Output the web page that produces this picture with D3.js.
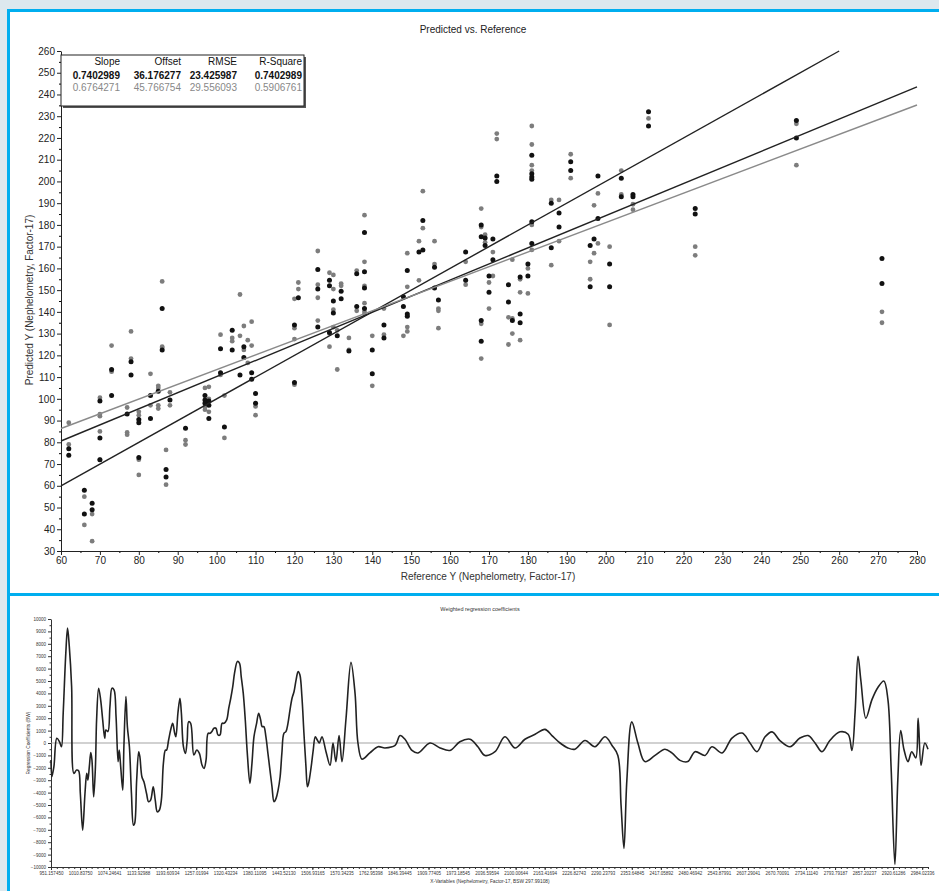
<!DOCTYPE html>
<html>
<head>
<meta charset="utf-8">
<script src="https://cdn.jsdelivr.net/npm/d3@7"></script>
<style>
  body { margin: 0; background: #dde8ee; }
  svg { display: block; font-family: "Liberation Sans", Arial, sans-serif; }
</style>
</head>
<body>
<div id="plot"></div>
<script>
// ---- top panel data: [reference, predicted] ----
const blackPoints = [
  [62,77],[62,74],[66,58],[66,47],[68,52],[68,49],[70,99],[70,82],[70,72],[73,101.5],[73,113.5],
  [77,93],[78,117],[78,111],[80,90.5],[80,89],[80,73],[83,101.5],[83,91],[85,103.5],[86,141.5],[86,122.5],
  [87,67.5],[87,64],[88,99.5],[92,86.5],[97,101.5],[97,99.5],[97,98],[98,91],[98,99],[98,97],
  [101,123],[101,112],[102,87],[104,131.5],[104,122.5],[106,111],[107,124],[107,119],[109,112],[109,109],
  [110,102.5],[110,98],[120,134],[120,107.5],[121,146.5],[126,159.5],[126,150.5],[126,133],
  [129,154.5],[129,152],[129,130.5],[130,145],[130,139.5],[131,129],[132,149.5],[132,146],[134,122],
  [136,157.5],[136,142.5],[138,176.5],[138,158.5],[138,151],[138,141.5],[140,122.5],[140,111.5],
  [143,134],[143,128],[148,142.5],[148,147],[149,159],[149,139],[149,138],[152,167.5],[153,182],[153,168.5],
  [156,160.5],[156,151],[157,145.5],[164,167.5],[164,154.5],[168,180],[168,174.5],[168,136],[168,126.5],
  [169,170.5],[169,174],[170,156.5],[170,149],[171,173.5],[171,164],[172,202.5],[172,200],
  [175,152.5],[175,144.5],[176,136],[178,156],[178,139],[178,135],[180,162],[180,156.5],
  [181,212],[181,203.5],[181,202],[181,201],[181,181.5],[181,171.5],[186,190],[186,169.5],
  [188,185.5],[188,179],[191,209],[191,205],[196,170.5],[196,151.5],[197,173.5],[198,202.5],[198,183],
  [201,162],[201,151.5],[204,201.5],[204,193],[207,194],[207,193],[211,232],[211,225.5],
  [223,187.5],[223,185],[249,228],[249,220],[271,164.5],[271,153]
];
const grayPoints = [
  [62,89],[62,79],[66,55],[66,42],[68,47],[68,34.5],[70,100.5],[70,93],[70,92],[70,85],[70,72],
  [73,124.5],[73,112.5],[77,96],[77,84.5],[77,83.5],[78,131],[78,118.5],[80,94],[80,92.5],[80,72],[80,65],
  [83,111.5],[83,97],[85,106],[85,105],[85,97],[85,95.5],[86,154],[86,124],[86,123.5],[87,76.5],[87,60.5],
  [88,103],[88,97],[92,81],[92,79],[97,105],[97,96.5],[97,95],[98,105.5],[98,100],[98,94],
  [101,129.5],[101,111],[102,101.5],[102,82],[104,128],[104,126.5],[106,148],[106,129],[107,133.5],[107,122.5],
  [108,127],[108,116.5],[109,135.5],[109,124.5],[110,96.5],[110,92.5],
  [120,146],[120,132.5],[120,127.5],[120,106.5],[121,153.5],[121,150.5],[126,168],[126,152.5],[126,146.5],[126,136],
  [129,158],[129,124],[129,130],[130,157],[130,150.5],[130,141],[130,133],[131,113.5],[131,131.5],
  [132,153],[132,152],[134,128],[134,122.5],[136,159],[136,140.5],
  [138,184.5],[138,163],[138,152],[138,144],[138,140],[138,139],[140,129],[140,106],[143,141.5],[143,129.5],
  [148,129],[149,167],[149,151.5],[149,133],[149,131],[152,172.5],[152,154.5],[153,195.5],[153,178.5],
  [156,172.5],[156,162],[157,141.5],[157,140.5],[157,132.5],[164,163],[164,152.5],
  [168,187.5],[168,179],[168,134.5],[168,118.5],[169,175.5],[169,172],[170,153.5],[170,141.5],
  [171,167.5],[171,156.5],[172,222],[172,219.5],[175,137.5],[175,125],[176,164],[176,130],[176,137],
  [178,155],[178,149],[178,127],[180,160],[180,148.5],
  [181,225.5],[181,217],[181,207.5],[181,205],[181,180],[181,168.5],[186,191.5],[186,161.5],
  [188,191.5],[188,172.5],[191,212.5],[191,201.5],[196,163],[196,155],[197,189],[197,167],
  [198,194.5],[198,171.5],[201,170],[201,134],[204,205],[204,194],[207,189.5],[207,187],[211,229],
  [223,170],[223,166],[249,226.5],[249,207.5],[271,140],[271,135]
];
const statHeaders = ["Slope", "Offset", "RMSE", "R-Square"];
const statBlack = ["0.7402989", "36.176277", "23.425987", "0.7402989"];
const statGray  = ["0.6764271", "45.766754", "29.556093", "0.5906761"];

// ---- bottom panel data ----
// [variable index, coefficient]
const coefPoints = [
  [0,-1370],[0.3,-2720],[1.0,-1910],[2.0,380],[2.9,110],[3.6,-300],[4.2,2400],[5.1,7250],[5.7,9270],
  [6.3,7790],[7.1,4550],[7.9,-2450],[8.8,-2180],[9.5,-2240],[10.1,-4070],[10.9,-7030],[11.7,-4070],
  [12.3,-2450],[12.7,-2990],[13.2,-1910],[13.7,-780],[14.1,-1370],[14.7,-4340],[15.3,-1910],[15.7,1860],
  [16.4,4420],[17.1,3480],[17.8,1860],[18.5,380],[18.9,1050],[19.6,920],[20.3,2940],[21.0,4420],
  [21.7,4290],[22.4,2130],[23.1,-1510],[23.5,-570],[24.0,-1910],[24.7,-3800],[25.1,-300],[25.8,3750],
  [26.3,1320],[27.0,-300],[27.7,-4070],[28.4,-6630],[28.8,-6500],[29.5,-2990],[30.2,-700],[30.6,-1100],
  [31.3,-2720],[32.0,-3130],[32.9,-4070],[33.6,-4740],[34.3,-4610],[35.2,-3530],[35.9,-4610],[36.6,-5550],
  [37.3,-5420],[38.0,-4610],[38.7,-1640],[39.4,-570],[39.8,-570],[40.5,240],[41.2,1050],[41.9,1590],
  [42.6,780],[43.0,510],[43.7,2400],[44.4,3610],[44.9,2400],[45.6,-300],[46.3,-840],[46.9,240],
  [47.4,1720],[48.1,1590],[49.2,-970],[50.2,-570],[51.1,-840],[52.0,-1780],[52.7,-2050],[53.4,-1370],
  [54.1,780],[54.8,780],[55.4,920],[56.1,1190],[56.8,1190],[57.5,650],[58.2,650],[58.9,1590],[59.6,1590],
  [60.5,1860],[61.2,2800],[61.9,3610],[62.6,4560],[63.2,5630],[64.2,6580],[64.9,6440],[65.5,5360],
  [66.2,4020],[66.9,1860],[67.6,-840],[68.5,-3260],[69.2,-1640],[69.9,510],[70.8,1590],[71.5,2400],
  [72.2,1860],[72.7,1320],[73.3,1320],[74.0,510],[74.7,-840],[75.4,-2180],[76.1,-3530],[76.8,-4740],
  [77.5,-4470],[78.2,-3800],[78.9,-2720],[79.5,-840],[80.2,780],[80.9,920],[81.6,1590],[82.3,2670],
  [83.0,3610],[83.7,4150],[84.4,5090],[85.1,5770],[85.7,5500],[86.4,3750],[87.1,780],[87.8,-1910],
  [88.3,-3530],[88.7,-3260],[89.6,-1910],[90.3,-570],[91.0,510],[91.7,240],[92.4,0],
  [93.3,500],[94.7,-700],[96.1,-1800],[97.1,0],[98.1,-1500],[99.2,600],[100.2,-1500],[101.6,2000],
  [103.3,6500],[104.7,4000],[105.7,0],[107.1,-1300],[109.8,-800],[112.6,-300],[115.0,-400],[118.5,-200],
  [120.2,600],[121.9,300],[124.3,-600],[126.4,-800],[130.5,0],[134.0,-400],[137.4,-600],[140.8,100],
  [144.3,300],[147.0,-300],[149.4,-1000],[152.9,-700],[156.3,500],[159.8,-400],[163.2,300],[166.7,700],
  [170.1,1100],[172.5,600],[175.3,0],[178.0,-400],[180.4,-500],[183.9,200],[187.3,-300],[190.8,500],
  [193.2,-200],[195.2,-1000],[196.3,-5000],[197.3,-8500],[198.3,-3000],[200.0,1700],[202.1,0],
  [204.5,-1500],[208.0,-1000],[211.4,-500],[213.8,-800],[216.6,-1400],[219.3,-1500],[221.8,-700],
  [225.2,-1000],[227.6,-300],[231.1,-800],[234.5,400],[238.0,800],[240.7,0],[243.1,-700],[245.9,500],
  [248.3,900],[251.0,200],[254.5,-300],[257.9,400],[260.7,600],[263.1,0],[265.5,-700],[268.2,200],
  [271.7,900],[274.5,700],[275.8,-600],[276.9,2500],[277.9,7000],[278.9,5000],[280.6,2000],[282.7,3500],
  [284.8,4500],[286.8,5000],[288.2,3500],[289.3,-2000],[290.6,-9800],[291.6,-3000],[292.6,1000],
  [293.7,-500],[295.1,-1500],[296.4,-700],[297.8,-1200],[298.6,2000],[299.6,-1800],[300.9,0],[302,-500]
];
const coefTickLabels = ["951.157450","1010.83750","1074.24641","1133.92988","1193.60934","1257.01994",
  "1320.43234","1380.11095","1443.52130","1506.93165","1570.34235","1762.95398","1846.39445","1909.77405",
  "1973.18545","2036.59594","2100.00644","2163.41694","2226.82743","2290.23793","2353.64845","2417.05892",
  "2480.46942","2543.87991","2607.29041","2670.70091","2734.11140","2793.79187","2857.20237","2920.61286",
  "2984.02336"];

window.addEventListener('load', main);

function main(){
  const W = 939, H = 891;
  const blue = '#00aeef';
  let svg = d3.select('#plot').append('svg').attr('width', W).attr('height', H);

  // frame
  svg.append('rect').attr('width', W).attr('height', H).attr('fill', '#dde8ee');
  svg.append('rect').attr('x', 10).attr('y', 12).attr('width', W - 10).attr('height', 581).attr('fill', '#fff');
  svg.append('rect').attr('x', 10).attr('y', 596).attr('width', W - 10).attr('height', H - 596).attr('fill', '#fff');
  svg.append('rect').attr('x', 7).attr('y', 9).attr('width', W - 7).attr('height', 3).attr('fill', blue);
  svg.append('rect').attr('x', 7).attr('y', 9).attr('width', 3).attr('height', H - 9).attr('fill', blue);
  svg.append('rect').attr('x', 7).attr('y', 593).attr('width', W - 7).attr('height', 3).attr('fill', blue);

  // ================= top: Predicted vs Reference =================
  let x = d3.scaleLinear().domain([60, 280]).range([61, 917]);
  let y = d3.scaleLinear().domain([30, 260]).range([551, 51]);
  let top = svg.append('g');

  // minor ticks
  top.append('g').attr('transform', 'translate(0,551)')
     .call(d3.axisBottom(x).tickValues(d3.range(65, 280, 10)).tickSize(2).tickFormat(''))
     .call(g => g.select('.domain').remove());
  top.append('g').attr('transform', 'translate(61,0)')
     .call(d3.axisLeft(y).tickValues(d3.range(35, 260, 10)).tickSize(2).tickFormat(''))
     .call(g => g.select('.domain').remove());

  let xAxis = top.append('g').attr('transform', 'translate(0,551)')
     .call(d3.axisBottom(x).tickValues(d3.range(60, 281, 10)).tickSize(4).tickSizeOuter(0).tickPadding(2));
  let yAxis = top.append('g').attr('transform', 'translate(61,0)')
     .call(d3.axisLeft(y).tickValues(d3.range(30, 261, 10)).tickSize(4).tickSizeOuter(0).tickPadding(2));
  [xAxis, yAxis].forEach(a => {
    a.selectAll('text').attr('font-size', 10).attr('fill', '#222').attr('font-family', null);
    a.selectAll('line,path').attr('stroke', '#222');
  });

  top.append('text').attr('x', 473).attr('y', 33).attr('text-anchor', 'middle')
     .attr('font-size', 10).attr('fill', '#222').text('Predicted vs. Reference');
  top.append('text').attr('x', 488).attr('y', 580).attr('text-anchor', 'middle')
     .attr('font-size', 10).attr('fill', '#333').text('Reference Y (Nephelometry, Factor-17)');
  top.append('text').attr('transform', 'translate(33,300) rotate(-90)').attr('text-anchor', 'middle')
     .attr('font-size', 10).attr('fill', '#333').text('Predicted Y (Nephelometry, Factor-17)');

  // points
  top.append('g').selectAll('circle').data(grayPoints).join('circle')
     .attr('cx', d => x(d[0])).attr('cy', d => y(d[1])).attr('r', 2.4).attr('fill', '#7d7d7d');
  top.append('g').selectAll('circle').data(blackPoints).join('circle')
     .attr('cx', d => x(d[0])).attr('cy', d => y(d[1])).attr('r', 2.5).attr('fill', '#111');

  // lines: target (slope 1), black fit, gray fit
  let fits = [
    {slope: 1, offset: 0, x1: 60, x2: 260, color: '#222'},
    {slope: +statBlack[0], offset: +statBlack[1], x1: 60, x2: 280, color: '#222'},
    {slope: +statGray[0], offset: +statGray[1], x1: 60, x2: 280, color: '#8a8a8a'}
  ];
  top.append('g').selectAll('line').data(fits).join('line')
     .attr('x1', d => x(d.x1)).attr('y1', d => y(d.slope * d.x1 + d.offset))
     .attr('x2', d => x(d.x2)).attr('y2', d => y(d.slope * d.x2 + d.offset))
     .attr('stroke', d => d.color).attr('stroke-width', 1.4);

  // stats box
  let box = top.append('g');
  box.append('rect').attr('x', 63).attr('y', 57).attr('width', 243).attr('height', 51).attr('fill', '#555');
  box.append('rect').attr('x', 61).attr('y', 55).attr('width', 243).attr('height', 51)
     .attr('fill', '#fff').attr('stroke', '#222').attr('stroke-width', 1);
  let colRight = [120, 181, 237, 302];
  let rows = [
    {vals: statHeaders, y: 65, fill: '#111', weight: 'normal'},
    {vals: statBlack, y: 79, fill: '#111', weight: 'bold'},
    {vals: statGray, y: 91, fill: '#888', weight: 'normal'}
  ];
  rows.forEach(r => {
    box.append('g').selectAll('text').data(r.vals).join('text')
       .attr('x', (d, i) => colRight[i]).attr('y', r.y).attr('text-anchor', 'end')
       .attr('font-size', 10).attr('font-weight', r.weight).attr('fill', r.fill).text(d => d);
  });

  // ================= bottom: Weighted regression coefficients =================
  let xc = d3.scaleLinear().domain([0, 302]).range([51, 928]);
  let yc = d3.scaleLinear().domain([-10000, 10000]).range([867, 619]);
  let bot = svg.append('g');

  bot.append('g').attr('transform', 'translate(0,867)')
     .call(d3.axisBottom(xc).tickValues(d3.range(0, 303, 2)).tickSize(2).tickFormat(''))
     .call(g => g.selectAll('line,path').attr('stroke', '#333'));
  let xcAxis = bot.append('g').attr('transform', 'translate(0,867)')
     .call(d3.axisBottom(xc).tickValues(d3.range(0, 301, 10)).tickSize(3).tickSizeOuter(0).tickPadding(2)
       .tickFormat((d, i) => coefTickLabels[i]));
  bot.append('g').attr('transform', 'translate(51,0)')
     .call(d3.axisLeft(yc).tickValues(d3.range(-9500, 10000, 1000)).tickSize(1.5).tickFormat(''))
     .call(g => g.select('.domain').remove())
     .call(g => g.selectAll('line').attr('stroke', '#333'));
  let ycAxis = bot.append('g').attr('transform', 'translate(51,0)')
     .call(d3.axisLeft(yc).tickValues(d3.range(-10000, 10001, 1000)).tickSize(3).tickSizeOuter(0).tickPadding(2)
       .tickFormat(d3.format('d')));
  [xcAxis, ycAxis].forEach(a => {
    a.selectAll('text').attr('font-size', 4.5).attr('fill', '#333').attr('font-family', null);
    a.selectAll('line,path').attr('stroke', '#333');
  });

  bot.append('line').attr('x1', xc(0)).attr('x2', xc(302)).attr('y1', yc(0)).attr('y2', yc(0))
     .attr('stroke', '#999').attr('stroke-width', 0.9);

  let coefLine = d3.line().x(d => xc(d[0])).y(d => yc(d[1])).curve(d3.curveCatmullRom.alpha(0.5));
  bot.append('path').attr('d', coefLine(coefPoints)).attr('fill', 'none')
     .attr('stroke', '#222').attr('stroke-width', 1.6);

  bot.append('text').attr('x', 480).attr('y', 611).attr('text-anchor', 'middle')
     .attr('font-size', 5.5).attr('fill', '#333').text('Weighted regression coefficients');
  bot.append('text').attr('x', 490).attr('y', 883).attr('text-anchor', 'middle')
     .attr('font-size', 4.8).attr('fill', '#333').text('X-Variables (Nephelometry, Factor-17, BSW 297.99108)');
  bot.append('text').attr('transform', 'translate(30,743) rotate(-90)').attr('text-anchor', 'middle')
     .attr('font-size', 4.8).attr('fill', '#333').text('Regression Coefficients (BW)');
}
</script>
</body>
</html>
